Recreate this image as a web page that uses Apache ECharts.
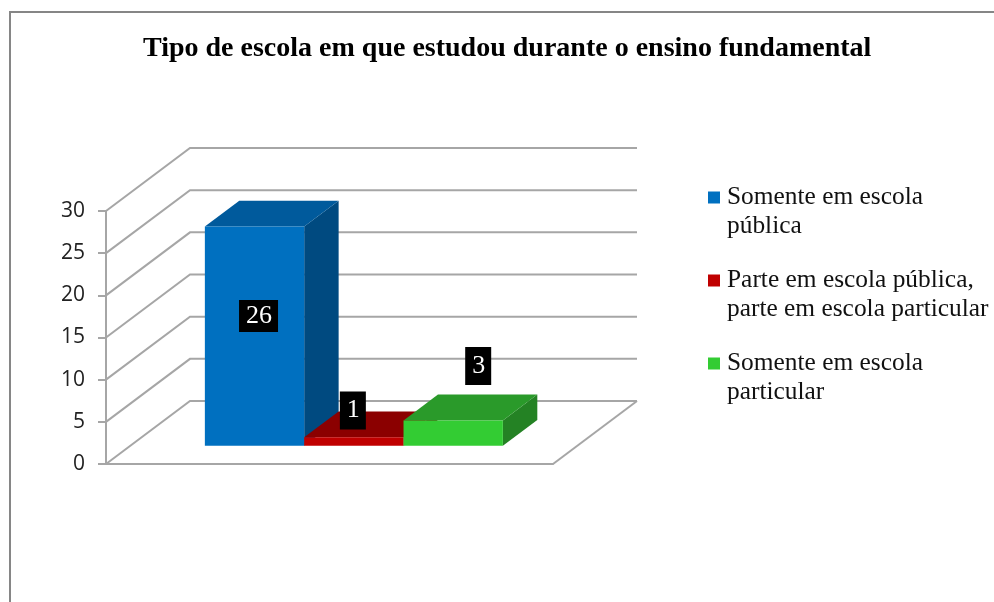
<!DOCTYPE html>
<html>
<head>
<meta charset="utf-8">
<style>
  html, body { margin: 0; padding: 0; background: #fff; }
  #chart { width: 994px; height: 602px; }
</style>
</head>
<body>
<div id="chart"></div>
<script src="https://cdn.jsdelivr.net/npm/echarts@6/dist/echarts.min.js"></script>
<script>
const titleText = 'Tipo de escola em que estudou durante o ensino fundamental'
const seriesNames = [
  'Somente em escola\npública',
  'Parte em escola pública,\nparte em escola particular',
  'Somente em escola\nparticular'
]
const seriesValues = [26, 1, 3]
const yTicks = [0, 5, 10, 15, 20, 25, 30]

const frontColors = ['#0070c0', '#c00000', '#33cc33']
const topColors = ['#005a9c', '#8b0000', '#2a9a2a']
const sideColors = ['#004a80', '#700000', '#248224']
const labelShift = [[4, -20], [-1, -31], [25, -67]]
const labelPadY = [3, 6, 6]

// oblique projection of the depth axis, px for the full floor depth
const depthX = 84
const depthY = -63
const barFront = 0.29
const barBack = 0.7
const gridColor = '#a6a6a6'
const font = '"Liberation Serif", serif'

const chart = echarts.init(document.getElementById('chart'), null, { renderer: 'canvas' })

function wallItem(params, api) {
  const p = api.coord([0, api.value(0)])
  const band = api.size([1, 0])[0]
  const left = p[0] - band / 2
  const right = p[0] + band / 2
  const lineStyle = { stroke: gridColor, lineWidth: 2, fill: null }
  const children = [{
    type: 'polyline',
    shape: { points: [[left, p[1]], [left + depthX, p[1] + depthY], [right + depthX, p[1] + depthY]] },
    style: lineStyle
  }]
  if (params.dataIndex === 0) {
    children.push({
      type: 'line',
      shape: { x1: right, y1: p[1], x2: right + depthX, y2: p[1] + depthY },
      style: lineStyle
    })
  }
  return { type: 'group', children }
}

function barItem(index) {
  return function (params, api) {
    const top = api.coord([0, api.value(1)])
    const base = api.coord([0, 0])
    // excel gap width 150%
    const w = api.size([1, 0])[0] / 4.5
    const x0 = top[0] - w * 1.5 + w * index + barFront * depthX
    const x1 = x0 + w
    const yb = base[1] + barFront * depthY
    const yt = top[1] + barFront * depthY
    const dx = (barBack - barFront) * depthX
    const dy = (barBack - barFront) * depthY
    const shift = labelShift[index]
    return {
      type: 'group',
      children: [
        { type: 'polygon', shape: { points: [[x1, yb], [x1 + dx, yb + dy], [x1 + dx, yt + dy], [x1, yt]] }, style: { fill: sideColors[index] } },
        { type: 'polygon', shape: { points: [[x0, yt], [x1, yt], [x1 + dx, yt + dy], [x0 + dx, yt + dy]] }, style: { fill: topColors[index] } },
        { type: 'rect', shape: { x: x0, y: yt, width: w, height: yb - yt }, style: { fill: frontColors[index] } },
        {
          type: 'text',
          z2: 100,
          x: (x0 + x1) / 2 + shift[0],
          y: (yt + yb) / 2 + shift[1],
          style: {
            text: String(api.value(1)),
            fill: '#fff',
            font: '26px ' + font,
            align: 'center',
            verticalAlign: 'middle',
            backgroundColor: '#000',
            padding: [labelPadY[index], 6, labelPadY[index], 7]
          }
        }
      ]
    }
  }
}

const richStyles = { gap: { width: 7, height: 12 }, pad: { width: 19, height: 12 } }
frontColors.forEach(function (c, i) {
  richStyles['sq' + i] = { width: 12, height: 12, backgroundColor: c }
})

chart.setOption({
  animation: false,
  backgroundColor: '#fff',
  title: {
    text: titleText,
    left: 143,
    top: 35,
    padding: 0,
    textStyle: { fontFamily: font, fontSize: 28, fontWeight: 'bold', color: '#000' }
  },
  legend: {
    orient: 'vertical',
    left: 698,
    top: 178,
    itemGap: 25,
    itemWidth: 0,
    itemHeight: 12,
    icon: 'none',
    selectedMode: false,
    data: seriesNames,
    formatter: function (name) {
      const i = seriesNames.indexOf(name)
      const lines = name.split('\n')
      return '{sq' + i + '|}{gap|}' + lines[0] + '\n{pad|}' + lines[1]
    },
    textStyle: {
      fontFamily: font,
      fontSize: 25.4,
      color: '#111',
      lineHeight: 29,
      rich: richStyles
    }
  },
  grid: { left: 106, top: 211, width: 447, height: 253 },
  xAxis: {
    type: 'category',
    data: [''],
    axisTick: { show: false },
    axisLabel: { show: false },
    axisLine: { lineStyle: { color: gridColor, width: 2 } }
  },
  yAxis: {
    type: 'value',
    min: 0,
    max: 30,
    interval: 5,
    splitLine: { show: false },
    axisLine: { show: true, lineStyle: { color: gridColor, width: 2 } },
    axisTick: { show: true, length: 8, lineStyle: { color: gridColor, width: 2 } },
    axisLabel: { margin: 21, padding: [7, 0, 0, 0], fontFamily: '"Open Sans", sans-serif', fontSize: 21, color: '#222' }
  },
  graphic: [{
    type: 'polyline',
    silent: true,
    shape: { points: [[10, 602], [10, 12], [994, 12]] },
    style: { stroke: '#868686', lineWidth: 2, fill: null }
  }],
  series: [{
    type: 'custom',
    name: 'walls',
    silent: true,
    z: 1,
    clip: false,
    renderItem: wallItem,
    encode: { y: 0 },
    data: yTicks.map(function (v) { return [v] })
  }].concat(seriesNames.map(function (name, i) {
    return {
      type: 'custom',
      name: name,
      z: 2 + i,
      clip: false,
      renderItem: barItem(i),
      encode: { x: 0, y: 1 },
      data: [[0, seriesValues[i]]]
    }
  }))
})
</script>
</body>
</html>
